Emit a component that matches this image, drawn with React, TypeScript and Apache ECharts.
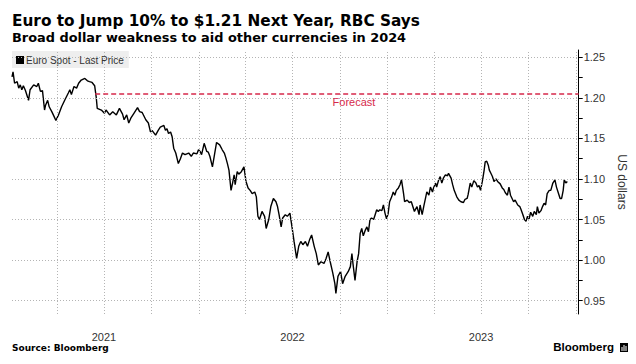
import React, { useEffect, useRef } from "react";
import * as echarts from "echarts";

const TITLE = "Euro to Jump 10% to $1.21 Next Year, RBC Says";
const SUBTITLE = "Broad dollar weakness to aid other currencies in 2024";
const SERIES_NAME = "Euro Spot - Last Price";
const SOURCE = "Source: Bloomberg";

const DATES: string[] = [
  "2021-01-04","2021-01-06","2021-01-09","2021-01-14","2021-01-17","2021-01-20","2021-01-23","2021-01-26","2021-01-30",
  "2021-02-05","2021-02-08","2021-02-15","2021-02-21","2021-02-24","2021-02-28","2021-03-04","2021-03-08","2021-03-10",
  "2021-03-14","2021-03-17","2021-03-22","2021-03-25","2021-03-30","2021-04-04","2021-04-10","2021-04-16","2021-04-23",
  "2021-04-26","2021-04-29","2021-05-04","2021-05-09","2021-05-13","2021-05-18","2021-05-25","2021-05-30","2021-06-03",
  "2021-06-08","2021-06-13","2021-06-16","2021-06-18","2021-06-26","2021-07-02","2021-07-05","2021-07-12","2021-07-18",
  "2021-07-25","2021-07-31","2021-08-06","2021-08-09","2021-08-14","2021-08-18","2021-08-22","2021-08-28","2021-09-04",
  "2021-09-08","2021-09-13","2021-09-20","2021-09-25","2021-09-29","2021-10-02","2021-10-09","2021-10-14","2021-10-18",
  "2021-10-25","2021-10-28","2021-10-31","2021-11-03","2021-11-07","2021-11-10","2021-11-13","2021-11-17","2021-11-22",
  "2021-11-26","2021-11-30","2021-12-05","2021-12-12","2021-12-17","2021-12-21","2021-12-28","2021-12-31",
  "2022-01-03","2022-01-06","2022-01-11","2022-01-16","2022-01-19","2022-01-22","2022-01-27","2022-01-31","2022-02-04",
  "2022-02-10","2022-02-15","2022-02-19","2022-02-22","2022-02-25","2022-02-28","2022-03-04","2022-03-07","2022-03-10",
  "2022-03-12","2022-03-16","2022-03-19","2022-03-24","2022-03-29","2022-04-02","2022-04-06","2022-04-10","2022-04-14",
  "2022-04-19","2022-04-22","2022-04-25","2022-04-28","2022-05-03","2022-05-08","2022-05-11","2022-05-16","2022-05-20",
  "2022-05-25","2022-05-30","2022-06-02","2022-06-05","2022-06-09","2022-06-12","2022-06-17","2022-06-21","2022-06-26",
  "2022-06-30","2022-07-04","2022-07-09","2022-07-13","2022-07-17","2022-07-21","2022-07-26","2022-07-30","2022-08-03",
  "2022-08-07","2022-08-12","2022-08-16","2022-08-20","2022-08-25","2022-08-31","2022-09-04","2022-09-08","2022-09-12",
  "2022-09-17","2022-09-21","2022-09-23","2022-09-27","2022-10-02","2022-10-06","2022-10-11","2022-10-17","2022-10-21",
  "2022-10-24","2022-10-26","2022-10-30","2022-11-03","2022-11-06","2022-11-09","2022-11-12","2022-11-15","2022-11-19",
  "2022-11-22","2022-11-25","2022-11-28","2022-12-01","2022-12-05","2022-12-08","2022-12-11","2022-12-14","2022-12-17",
  "2022-12-21","2022-12-24","2022-12-27","2022-12-30",
  "2023-01-02","2023-01-05","2023-01-09","2023-01-12","2023-01-15","2023-01-18","2023-01-22","2023-01-25","2023-01-28",
  "2023-02-01","2023-02-03","2023-02-08","2023-02-12","2023-02-16","2023-02-20","2023-02-22","2023-02-27","2023-03-03",
  "2023-03-05","2023-03-09","2023-03-12","2023-03-16","2023-03-18","2023-03-22","2023-03-25","2023-03-29","2023-03-31",
  "2023-04-04","2023-04-06","2023-04-10","2023-04-13","2023-04-16","2023-04-19","2023-04-23","2023-04-27","2023-04-29",
  "2023-05-04","2023-05-07","2023-05-10","2023-05-15","2023-05-19","2023-05-23","2023-05-28","2023-05-31","2023-06-04",
  "2023-06-06","2023-06-10","2023-06-13","2023-06-17","2023-06-21","2023-06-24","2023-06-27","2023-06-30","2023-07-04",
  "2023-07-07","2023-07-09","2023-07-12","2023-07-15","2023-07-17","2023-07-20","2023-07-23","2023-07-26","2023-07-30",
  "2023-08-02","2023-08-07","2023-08-11","2023-08-14","2023-08-17","2023-08-21","2023-08-24","2023-08-27","2023-08-30",
  "2023-09-02","2023-09-05","2023-09-10","2023-09-14","2023-09-16","2023-09-20","2023-09-23","2023-09-26","2023-09-29",
  "2023-10-02","2023-10-05","2023-10-09","2023-10-12","2023-10-16","2023-10-18","2023-10-21","2023-10-25","2023-10-28",
  "2023-10-31","2023-11-03","2023-11-06","2023-11-10","2023-11-13","2023-11-17","2023-11-21","2023-11-24","2023-11-27",
  "2023-12-01","2023-12-04","2023-12-07","2023-12-09","2023-12-12","2023-12-15"
];

const EURUSD: number[] = [
  1.226,1.232,1.218,1.220,1.212,1.216,1.210,1.215,1.209,
  1.197,1.210,1.216,1.214,1.218,1.208,1.209,1.185,1.191,
  1.197,1.189,1.183,1.179,1.172,1.179,1.189,1.197,1.206,
  1.210,1.204,1.214,1.212,1.218,1.222,1.224,1.221,1.220,
  1.219,1.215,1.201,1.187,1.185,1.181,1.185,1.179,1.183,
  1.179,1.187,1.180,1.173,1.179,1.169,1.175,1.181,1.188,
  1.183,1.182,1.173,1.169,1.158,1.160,1.154,1.160,1.164,
  1.166,1.160,1.162,1.156,1.158,1.152,1.138,1.132,1.119,
  1.125,1.132,1.130,1.132,1.128,1.132,1.131,1.136,
  1.134,1.130,1.144,1.134,1.133,1.128,1.115,1.130,1.145,
  1.142,1.136,1.132,1.126,1.119,1.111,1.086,1.095,1.105,
  1.093,1.109,1.106,1.109,1.115,1.097,1.089,1.086,1.082,
  1.084,1.078,1.054,1.050,1.060,1.054,1.039,1.050,1.066,
  1.076,1.072,1.066,1.056,1.041,1.052,1.056,1.054,1.058,
  1.041,1.023,1.002,1.017,1.023,1.019,1.023,1.017,1.025,
  1.031,1.017,1.008,0.994,0.998,0.996,1.002,1.010,0.998,
  0.984,0.971,0.959,0.980,0.986,0.971,0.980,0.986,0.992,
  1.008,0.996,0.975,0.998,1.008,1.033,1.039,1.030,1.037,
  1.041,1.035,1.050,1.052,1.050,1.056,1.062,1.060,1.062,
  1.061,1.068,1.058,1.051,
  1.057,1.072,1.078,1.084,1.080,1.086,1.089,1.093,1.099,
  1.082,1.072,1.074,1.071,1.072,1.064,1.060,1.066,1.056,
  1.068,1.056,1.066,1.078,1.084,1.080,1.090,1.084,1.089,
  1.095,1.090,1.099,1.103,1.095,1.101,1.105,1.104,1.107,
  1.101,1.093,1.086,1.078,1.074,1.072,1.071,1.075,1.076,
  1.081,1.095,1.090,1.098,1.095,1.090,1.092,1.086,1.099,
  1.111,1.121,1.122,1.117,1.111,1.107,1.103,1.097,1.100,
  1.097,1.094,1.089,1.087,1.083,1.080,1.090,1.080,1.076,
  1.072,1.074,1.068,1.066,1.063,1.056,1.050,1.048,1.054,
  1.051,1.059,1.054,1.060,1.056,1.066,1.058,1.061,1.066,
  1.070,1.068,1.082,1.086,1.086,1.095,1.099,1.090,1.084,
  1.076,1.076,1.086,1.099,1.095,1.097
];

const FORECAST_VALUE = 1.205;
const FORECAST_START = "2021-06-14";
const FORECAST_LABEL = "Forecast";
const FORECAST_LABEL_DATE = "2022-10-28";

const X_MIN = "2021-01-04";
const X_MAX = "2024-01-06";
const QUARTER_LINES = [
  "2021-04-01","2021-07-01","2021-10-01","2022-01-01","2022-04-01","2022-07-01",
  "2022-10-01","2023-01-01","2023-04-01","2023-07-01","2023-10-01","2024-01-01"
];
const YEAR_LABEL_DATES = ["2021-07-01","2022-07-01","2023-07-01"];

const Y_MIN = 0.9336;
const Y_MAX = 1.259;
const Y_LABELS = [0.95, 1.0, 1.05, 1.1, 1.15, 1.2, 1.25];
const Y_TICKS = [0.95, 0.975, 1.0, 1.025, 1.05, 1.075, 1.1, 1.125, 1.15, 1.175, 1.2, 1.225, 1.25];
const Y_NAME = "US dollars";

const RED = "#d6294b";
const GRID = "#b4b4b4";
const FONT = "'Liberation Sans', Arial, sans-serif";
const TITLE_FONT = "'DejaVu Sans', Verdana, sans-serif";

const ts = (s: string) => new Date(s + "T00:00:00").getTime();

export default function App() {
  const ref = useRef<HTMLDivElement>(null);
  useEffect(() => {
    if (!ref.current) return;
    const chart = echarts.init(ref.current, undefined, { renderer: "svg" });
    const data = DATES.map((d, i) => [ts(d), EURUSD[i]]);
    const gridLines = [
      ...QUARTER_LINES.map((d) => ({ xAxis: ts(d) })),
      ...Y_LABELS.map((v) => ({ yAxis: v })),
    ];
    chart.setOption({
      animation: false,
      backgroundColor: "#ffffff",
      title: [
        {
          text: TITLE,
          left: 12,
          top: 13,
          padding: 0,
          textStyle: { fontFamily: TITLE_FONT, fontWeight: "bold", fontSize: 15.3, color: "#000" },
        },
        {
          text: SUBTITLE,
          left: 12,
          top: 31,
          padding: 0,
          textStyle: { fontFamily: TITLE_FONT, fontWeight: "bold", fontSize: 12.9, color: "#000" },
        },
      ],
      legend: {
        show: true,
        left: 12,
        top: 51,
        padding: [4, 5, 3, 4],
        backgroundColor: "#eeeeee",
        icon: "rect",
        itemWidth: 8,
        itemHeight: 8,
        selectedMode: false,
        itemStyle: { color: "#000" },
        lineStyle: { opacity: 0 },
        textStyle: { fontFamily: FONT, fontSize: 10, color: "#333", padding: [0, 0, 0, -3] },
        data: [SERIES_NAME],
      },
      grid: { left: 12, right: 52, top: 50, bottom: 50 },
      xAxis: {
        type: "value",
        min: ts(X_MIN),
        max: ts(X_MAX),
        axisLine: { show: false },
        axisTick: { show: false, customValues: YEAR_LABEL_DATES.map(ts) },
        axisLabel: {
          customValues: YEAR_LABEL_DATES.map(ts),
          formatter: (v: number) => String(new Date(v).getFullYear()),
          fontFamily: FONT,
          fontSize: 11,
          color: "#333",
          margin: 17,
        },
        splitLine: { show: false },
      },
      yAxis: {
        type: "value",
        position: "right",
        min: Y_MIN,
        max: Y_MAX,
        name: Y_NAME,
        nameLocation: "middle",
        nameRotate: -90,
        nameGap: 28,
        nameTextStyle: { fontFamily: FONT, fontSize: 12, color: "#333" },
        axisLine: { show: true, lineStyle: { color: "#000", width: 1 } },
        axisTick: { show: true, customValues: Y_TICKS, length: 4, lineStyle: { color: "#000" } },
        axisLabel: {
          customValues: Y_LABELS,
          formatter: (v: number) => v.toFixed(2),
          fontFamily: FONT,
          fontSize: 11,
          color: "#333",
          margin: 5,
        },
        splitLine: { show: false },
      },
      series: [
        {
          name: "gridlines",
          type: "line",
          data,
          showSymbol: false,
          symbol: "none",
          silent: true,
          lineStyle: { opacity: 0 },
          z: 1,
          markLine: {
            silent: true,
            symbol: "none",
            label: { show: false },
            lineStyle: { color: GRID, type: [1, 2], width: 1 },
            data: gridLines,
          },
        },
        {
          name: SERIES_NAME,
          type: "line",
          data,
          showSymbol: false,
          symbol: "none",
          color: "#000",
          lineStyle: { color: "#000", width: 1.4 },
          z: 3,
          markLine: {
            silent: true,
            symbol: "none",
            label: { show: false },
            lineStyle: { color: RED, type: [5, 3], width: 1.5 },
            data: [[{ coord: [ts(FORECAST_START), FORECAST_VALUE] }, { coord: [ts(X_MAX), FORECAST_VALUE] }]],
          },
          markPoint: {
            silent: true,
            symbol: "circle",
            symbolSize: 0,
            itemStyle: { color: "transparent" },
            label: {
              show: true,
              position: "bottom",
              distance: 3,
              formatter: FORECAST_LABEL,
              color: RED,
              fontFamily: FONT,
              fontSize: 11,
            },
            data: [{ coord: [ts(FORECAST_LABEL_DATE), FORECAST_VALUE] }],
          },
        },
      ],
      graphic: [
        {
          type: "text",
          left: 12,
          top: 343,
          style: { text: SOURCE, font: "bold 9px 'DejaVu Sans', Verdana, sans-serif", fill: "#000" },
        },
        {
          type: "text",
          right: 22,
          top: 341,
          style: { text: "Bloomberg", font: "bold 11.5px 'Liberation Sans', Arial, sans-serif", fill: "#000" },
        },
        {
          type: "group",
          right: 8,
          top: 343,
          children: [
            { type: "rect", shape: { x: 0, y: 0, width: 8, height: 9 }, style: { fill: "#000" } },
            { type: "rect", shape: { x: 1.5, y: 4, width: 1, height: 4 }, style: { fill: "#fff" } },
            { type: "rect", shape: { x: 3.5, y: 2, width: 1, height: 6 }, style: { fill: "#fff" } },
            { type: "rect", shape: { x: 5.5, y: 3, width: 1, height: 5 }, style: { fill: "#fff" } },
          ],
        },
      ],
    });
    return () => chart.dispose();
  }, []);
  return (
    <div
      ref={ref}
      style={{ position: "fixed", left: 0, top: 0, width: 636, height: 364, background: "#fff" }}
    />
  );
}
